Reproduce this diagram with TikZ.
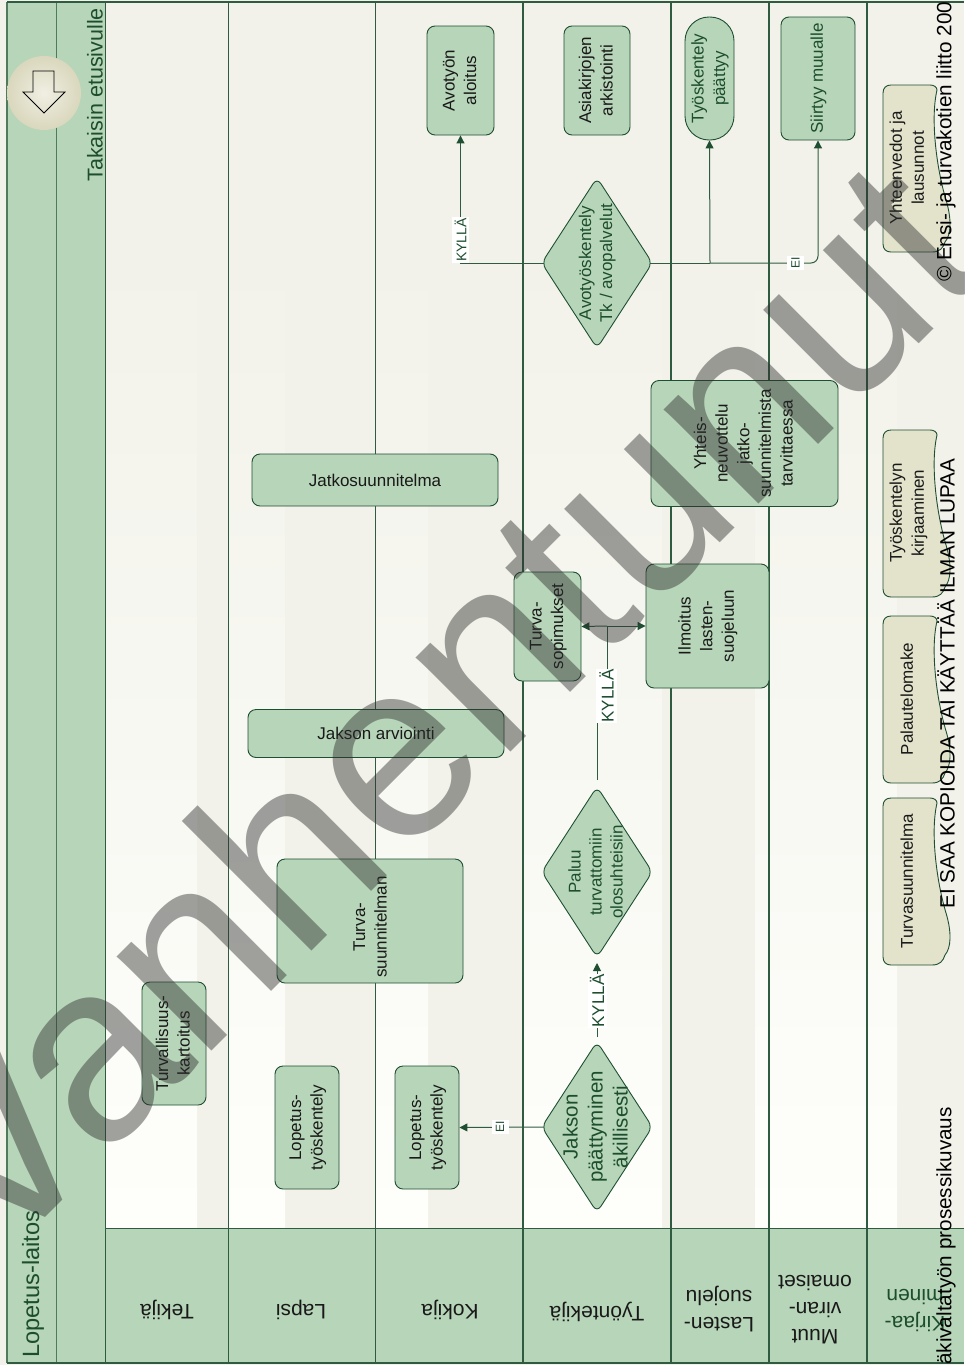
\documentclass[tikz,border=0pt]{standalone}
\usepackage{fontspec}
\setmainfont{Liberation Sans}
\usetikzlibrary{shapes.geometric,arrows.meta,calc}
\definecolor{pagebg}{HTML}{F2F2EA}
\definecolor{palewhite}{HTML}{FEFEFB}
\definecolor{lanegreen}{HTML}{B7D5B8}
\definecolor{darkline}{HTML}{1F4F32}
\definecolor{lanelinec}{HTML}{2F5C41}
\definecolor{softline}{HTML}{4F7A5C}
\definecolor{darktext}{HTML}{1C4E2E}
\definecolor{docfill}{HTML}{E3E3CC}
\definecolor{wmgray}{RGB}{47,47,47}
\definecolor{btninner}{HTML}{F0EFE3}
\definecolor{btnouter}{HTML}{D9D7BC}
\pgfdeclarelayer{lanes}\pgfdeclarelayer{conn}\pgfdeclarelayer{over}
\pgfsetlayers{lanes,conn,main,over}
\newcommand\rt[1]{\hspace*{1pt}\rotatebox{90}{\begin{tabular}{@{}c@{}}#1\end{tabular}}}
\newcommand\fs[2]{\fontsize{#1pt}{#2pt}\selectfont}
\tikzset{
  procbox/.style={draw=darkline,fill=lanegreen,line width=.9pt,rounded corners=8pt,inner sep=0pt,font=\fs{17}{21.6},text=black!90},
  choice/.style={diamond,draw=darkline,fill=lanegreen,line width=.9pt,rounded corners=7pt,inner sep=0pt,shape aspect=.65,minimum width=111pt,minimum height=171pt},
  choicetext/.style={inner sep=0pt,text=darktext,font=\fs{17}{21}},
  head/.style={rotate=180,align=center,inner sep=0pt,font=\fs{21}{27},text=black!90},
  flow/.style={draw=lanelinec,line width=1pt},
  flowtip/.style={flow,-{Triangle[length=8pt,width=8pt,color=darkline]}},
  tag/.style={rotate=90,fill=white,text=darktext,inner sep=1pt,font=\fs{14}{14}},
  docshape/.style={draw=darkline,fill=docfill,line width=.9pt},
  doctext/.style={inner sep=0pt,font=\fs{17}{22},text=black!90},
  footer/.style={rotate=90,inner sep=0pt,font=\fs{20.7}{22},text=black},
  laneline/.style={draw=lanelinec,line width=.8pt},
  lanelinewide/.style={draw=lanelinec,line width=1.2pt}
}
\newcommand\docsheet[3]{%
  \draw[docshape] (883,#1+8) .. controls (883,#1+3) and (886,#1) .. (891,#1) -- (930,#1)
    .. controls (934,#1) and (937,#1+2) .. (937,#1+5)
    .. controls (930,#1+35) and (937,#1+85) .. (946,#1+115)
    .. controls (952,#1+135) and (951,#1+150) .. (945,#1+157)
    .. controls (943,#1+163) and (940,#1+167) .. (932,#1+167)
    -- (891,#1+167) .. controls (886,#1+167) and (883,#1+164) .. (883,#1+159) -- cycle;
  \node[doctext] (#2) at (908,#1+83) {\rt{#3}};
}
\begin{document}
\begin{tikzpicture}[x=1pt,y=-1pt]
\useasboundingbox (0,0) rectangle (964,1365);
\clip (0,0) rectangle (964,1365);
\begin{pgfonlayer}{lanes}
  \fill[pagebg] (0,0) rectangle (964,1365);
  \foreach \a/\b in {105/197,228/285,375/428,523/662,755/769,769/867,867/897}
    \shade[top color=pagebg,bottom color=palewhite] (\a,250) rectangle (\b,1228);
  \fill[lanegreen] (7,2) rectangle (105,1363);
  \fill[lanegreen] (105,1228) rectangle (964,1363);
  \draw[draw=softline,line width=1.2pt] (7,2) -- (7,1363);
  \draw[draw=softline,line width=1pt] (56,2) -- (56,1363);
  \foreach \a in {105,228,375}
    \draw[laneline] (\a,2) -- (\a,1363);
  \foreach \a in {523,671,769,867}
    \draw[lanelinewide] (\a,2) -- (\a,1363);
  \draw[lanelinewide] (7,2) -- (964,2);
  \draw[lanelinewide] (7,1363) -- (964,1363);
  \draw[laneline] (105,1228) -- (964,1228);
\end{pgfonlayer}

% header texts
\node[rotate=90,inner sep=0pt,font=\fs{23.6}{25},text=darktext,anchor=west] (title) at (33,1358) {Lopetus-laitos};
\node[rotate=90,inner sep=0pt,font=\fs{21.5}{24},text=darktext,anchor=east] (back) at (95,8) {Takaisin etusivulle};
\node[head] (h1) at (167,1310) {Tekijä};
\node[head] (h2) at (301,1310) {Lapsi};
\node[head] (h3) at (450,1310) {Kokija};
\node[head] (h4) at (597,1312) {Työntekijä};
\node[head] (h5) at (719,1309) {Lasten-\\suojelu};
\node[head] (h6) at (815,1310) {Muut\\viran-\\omaiset};
\node[head,text=darktext] (h7) at (915,1310) {Kirjaa-\\minen};

% round back button
\shade[inner color=btninner,outer color=btnouter] (44,93) circle (37);
\draw[draw=black,line width=.8pt,fill=none] (33,71) -- (54,71) -- (54,92) -- (65,92) -- (44,113) -- (23,92) -- (33,92) -- cycle;

% process nodes
\node[procbox,minimum width=67pt,minimum height=109pt] (aloitus) at (460.5,80.5) {\rt{Avotyön\\aloitus}};
\node[procbox,minimum width=66pt,minimum height=109pt] (arkisto) at (597,80.5) {\rt{Asiakirjojen\\arkistointi}};
\node[procbox,rounded corners=24pt,minimum width=49pt,minimum height=123pt,text=darktext] (paattyy) at (709.5,78.5) {\rt{Työskentely\\päättyy}};
\node[procbox,minimum width=74pt,minimum height=123pt,text=darktext] (muualle) at (818,78.5) {\rt{Siirtyy muualle}};
\node[procbox,minimum width=187pt,minimum height=126pt] (yhteis) at (744.5,443.5) {\rt{Yhteis-\\neuvottelu\\jatko-\\suunnitelmista\\tarvittaessa}};
\node[procbox,minimum width=246pt,minimum height=52pt] (jatko) at (375,480) {Jatkosuunnitelma};
\node[procbox,minimum width=256pt,minimum height=48pt] (arviointi) at (376,733.5) {Jakson arviointi};
\node[procbox,minimum width=186pt,minimum height=124pt] (tsuun) at (370,921) {};
\node[inner sep=0pt,font=\fs{17}{21.6},text=black!90] (tsuuntxt) at (371,927) {\rt{Turva-\\suunnitelman}};
\node[procbox,minimum width=64pt,minimum height=123pt] (kartoitus) at (174,1043.5) {\rt{Turvallisuus-\\kartoitus}};
\node[procbox,minimum width=64pt,minimum height=123pt] (lop1) at (307,1127.5) {\rt{Lopetus-\\työskentely}};
\node[procbox,minimum width=64pt,minimum height=123pt] (lop2) at (427,1127.5) {\rt{Lopetus-\\työskentely}};
\node[procbox,minimum width=67pt,minimum height=109pt] (sopim) at (547.5,626.5) {\rt{Turva-\\sopimukset}};
\node[procbox,minimum width=123pt,minimum height=124pt] (ilmoitus) at (707.5,626) {\rt{Ilmoitus\\lasten-\\suojeluun}};

% decisions
\node[choice] (avo) at (597,263) {};
\node[choicetext] (avotxt) at (597,263) {\rt{Avotyöskentely\\Tk / avopalvelut}};
\node[choice] (paluu) at (597,872) {};
\node[choicetext] (paluutxt) at (597,872) {\rt{Paluu\\turvattomiin\\olosuhteisiin}};
\node[choice] (jakso) at (597,1127) {};
\node[choicetext,font=\fs{20.5}{25}] (jaksotxt) at (597,1127) {\rt{Jakson\\päättyminen\\äkillisesti}};

% documents
\docsheet{85}{d1}{Yhteenvedot ja\\lausunnot}
\docsheet{430}{d2}{Työskentelyn\\kirjaaminen}
\docsheet{616}{d3}{Palautelomake}
\docsheet{798}{d4}{Turvasuunnitelma}

% connectors
\coordinate (fromjakso) at (597,1037);
\coordinate (topaluu) at (597,963);
\coordinate (frompaluu) at (597,780);
\coordinate (bendA) at (597,700);
\coordinate (bendB) at (607,700);
\coordinate (joint) at (607,626);
\coordinate (branch) at (710,263);
\begin{pgfonlayer}{conn}
  \draw[flowtip] ([xshift=6pt]avo.west) -| (aloitus.south);
  \draw[flow] ([xshift=-6pt]avo.east) -- (branch);
  \draw[flowtip] (branch) -- (paattyy.south);
  \draw[flowtip,rounded corners=7pt] (branch) -| (muualle.south);
  \draw[flowtip] ([xshift=6pt]jakso.west) -- (lop2.east);
  \draw[flowtip] (fromjakso) -- (topaluu);
  \draw[flow] (frompaluu) -- (bendA) -- (bendB) -- (joint);
  \draw[flowtip] (joint) -- (sopim.east);
  \draw[flowtip] (joint) -- (ilmoitus.west);
\end{pgfonlayer}
\node[tag,minimum width=44pt,minimum height=17pt] (t1) at (460.5,240) {KYLLÄ};
\node[tag,font=\fs{17}{17},minimum width=54pt,minimum height=21pt] (t2) at (606.5,696) {KYLLÄ};
\node[tag,font=\fs{17}{17},minimum width=52pt,minimum height=19pt] (t3) at (597,1001) {KYLLÄ};
\node[tag,font=\fs{12}{12},minimum width=14pt,minimum height=17pt] (t4) at (795.5,263) {EI};
\node[tag,font=\fs{12}{12},minimum width=14pt,minimum height=17pt] (t5) at (500,1127) {EI};

\begin{pgfonlayer}{over}
  \node[rotate=45,anchor=base west,inner sep=0pt,font=\fontsize{253pt}{255pt}\selectfont,text=wmgray,text opacity=.45] (wm) at (-6,1269) {Vanhentunut};
  \node[footer,anchor=west] (f1) at (946,282) {© Ensi- ja turvakotien liitto 200};
  \node[footer,anchor=center] (f2) at (946,683.5) {EI SAA KOPIOIDA TAI KÄYTTÄÄ ILMAN LUPAA};
  \node[footer,anchor=west] (f4) at (946,1365) {äkivaltatyön prosessikuvaus};
\end{pgfonlayer}
\end{tikzpicture}
\end{document}
